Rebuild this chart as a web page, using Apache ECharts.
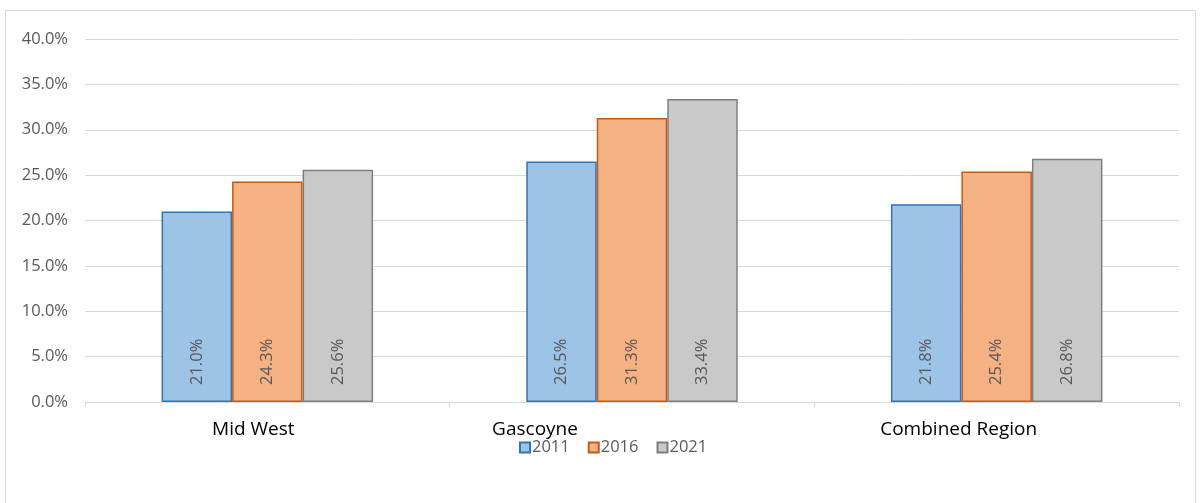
<!DOCTYPE html>
<html>
<head>
<meta charset="utf-8">
<script src="https://cdn.jsdelivr.net/npm/echarts@6/dist/echarts.min.js"></script>
<style>
html,body{margin:0;padding:0;background:#fff;}
#frame{position:absolute;left:5px;top:10px;width:1191px;height:500px;border:1.5px solid #d9d9d9;border-bottom:none;box-sizing:border-box;}
#c{position:absolute;left:0;top:0;width:1203px;height:503px;}
</style>
</head>
<body>
<div id="frame"></div>
<div id="c"></div>
<script>
const categories = ['Mid West', 'Gascoyne', 'Combined Region'];
const seriesNames = ['2011', '2016', '2021'];
const values2011 = [21.0, 26.5, 21.8];
const values2016 = [24.3, 31.3, 25.4];
const values2021 = [25.6, 33.4, 26.8];
const yTicks = [0, 5, 10, 15, 20, 25, 30, 35, 40];

const fills = ['#9DC3E6', '#F4B183', '#C9C9C9'];
const borders = ['#2E75B6', '#C55A11', '#7F7F7F'];
const font = '"Open Sans", sans-serif';
const labelShift = {'Mid West': 'a', 'Gascoyne': 'b', 'Combined Region': 'c'};

const chart = echarts.init(document.getElementById('c'), null, {renderer: 'canvas'});
const allValues = [values2011, values2016, values2021];
chart.setOption({
  animation: false,
  backgroundColor: 'transparent',
  grid: {left: 85, right: 24, top: 39, bottom: 101, containLabel: false},
  legend: {
    data: seriesNames,
    top: 434,
    left: 514,
    itemWidth: 10,
    itemHeight: 10,
    itemGap: 18,
    icon: 'rect',
    textStyle: {fontFamily: font, fontSize: 16.5, color: '#595959', padding: [0, 0, 0, -3]}
  },
  xAxis: {
    type: 'category',
    data: categories,
    axisLine: {lineStyle: {color: '#d9d9d9', width: 1}},
    axisTick: {show: true, length: 5, lineStyle: {color: '#d9d9d9'}},
    axisLabel: {
      margin: 18,
      fontFamily: font,
      fontSize: 19,
      color: '#000',
      formatter: v => '{' + labelShift[v] + '|' + v + '}',
      rich: {
        a: {fontFamily: font, fontSize: 19, color: '#000', padding: [0, 28, 0, 0]},
        b: {fontFamily: font, fontSize: 19, color: '#000', padding: [0, 194, 0, 0]},
        c: {fontFamily: font, fontSize: 19, color: '#000', padding: [0, 76, 0, 0]}
      }
    }
  },
  yAxis: {
    type: 'value',
    min: yTicks[0],
    max: yTicks[yTicks.length - 1],
    interval: 5,
    axisLine: {show: false},
    axisTick: {show: false},
    splitLine: {lineStyle: {color: '#d9d9d9', width: 1}},
    axisLabel: {
      margin: 17,
      fontFamily: font,
      fontSize: 16.5,
      color: '#595959',
      formatter: v => v.toFixed(1) + '%'
    }
  },
  series: seriesNames.map((name, i) => ({
    name: name,
    type: 'bar',
    data: allValues[i],
    barGap: '0%',
    barCategoryGap: '42%',
    itemStyle: {color: fills[i], borderColor: borders[i], borderWidth: 1.5},
    label: {
      show: true,
      position: 'insideBottom',
      rotate: 90,
      align: 'left',
      verticalAlign: 'middle',
      distance: 17,
      fontFamily: font,
      fontSize: 16.5,
      color: '#595959',
      formatter: p => p.value.toFixed(1) + '%'
    }
  }))
});
</script>
</body>
</html>
